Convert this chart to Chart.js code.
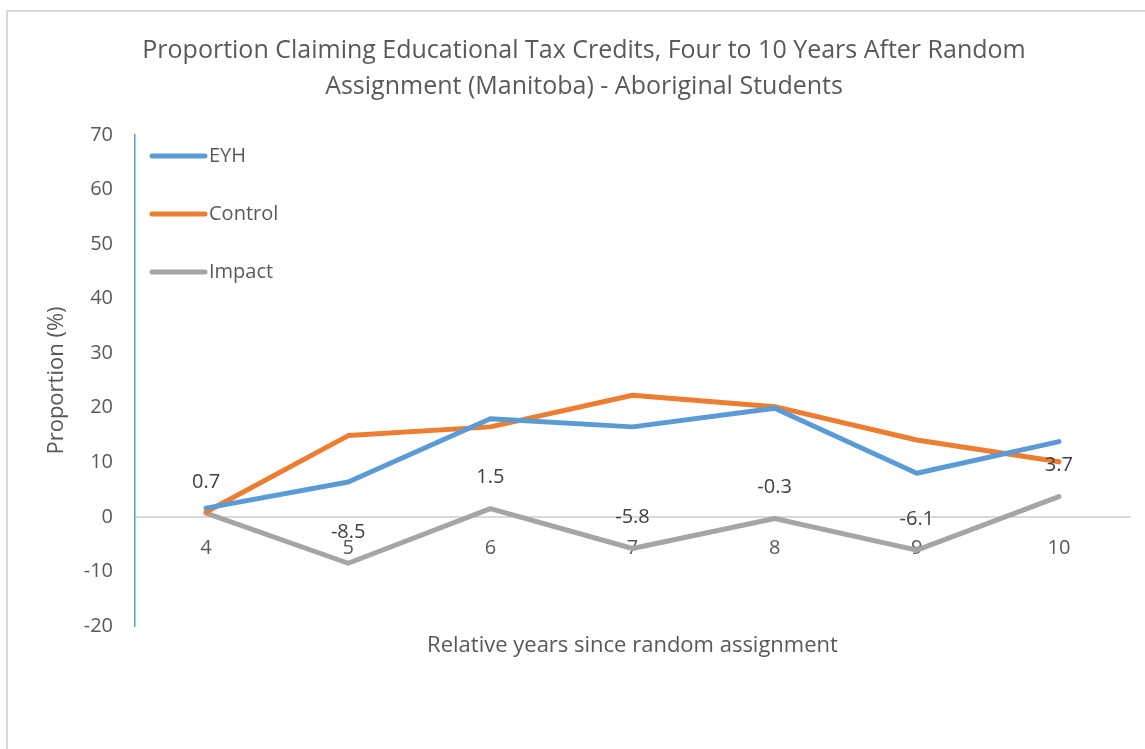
<!DOCTYPE html>
<html>
<head>
<meta charset="utf-8">
<title>Educational Tax Credits - Manitoba</title>
<script src="https://cdn.jsdelivr.net/npm/chart.js@4.4.1/dist/chart.umd.min.js"></script>
<style>
    body { margin: 0; background: #fff; overflow: hidden; }
    #frame {
        position: absolute; left: 6px; top: 10px;
        width: 1200px; height: 800px;
        border: 2px solid #d9d9d9;
    }
    #wrap { position: absolute; left: 0; top: 0; width: 1145px; height: 749px; }
</style>
</head>
<body>
<div id="frame"></div>
<div id="wrap"><canvas id="taxChart"></canvas></div>
<script>
// values
const years = ['4', '5', '6', '7', '8', '9', '10'];
const eyh = [1.6, 6.4, 18.0, 16.5, 19.9, 8.0, 13.8];
const control = [0.9, 14.9, 16.5, 22.3, 20.2, 14.1, 10.1];
const impact = [0.7, -8.5, 1.5, -5.8, -0.3, -6.1, 3.7];
const yTicks = [-20, -10, 0, 10, 20, 30, 40, 50, 60, 70];

const FONT = "'Open Sans', sans-serif";
const TEXT = '#595959';

// legend drawn inside the plot, top left
const insideLegend = {
    id: 'insideLegend',
    afterDraw(chart) {
        const ctx = chart.ctx;
        const a = chart.chartArea;
        ctx.save();
        ctx.font = '20px ' + FONT;
        ctx.textBaseline = 'middle';
        chart.data.datasets.forEach((ds, i) => {
            const y = a.top + 21 + i * 58;
            ctx.strokeStyle = ds.borderColor;
            ctx.lineWidth = 5;
            ctx.lineCap = 'round';
            ctx.beginPath();
            ctx.moveTo(a.left + 17, y);
            ctx.lineTo(a.left + 70, y);
            ctx.stroke();
            ctx.fillStyle = TEXT;
            ctx.fillText(ds.label, a.left + 74, y);
        });
        ctx.restore();
    }
};

// value labels for the Impact series + x axis title
const extraText = {
    id: 'extraText',
    afterDatasetsDraw(chart) {
        const ctx = chart.ctx;
        const a = chart.chartArea;
        ctx.save();
        ctx.font = '20px ' + FONT;
        ctx.fillStyle = '#404040';
        ctx.textAlign = 'center';
        ctx.textBaseline = 'middle';
        const meta = chart.getDatasetMeta(2);
        meta.data.forEach((pt, i) => {
            ctx.fillText(impact[i].toFixed(1), pt.x, pt.y - 31);
        });
        ctx.font = '22px ' + FONT;
        ctx.fillStyle = TEXT;
        ctx.fillText('Relative years since random assignment', (a.left + a.right) / 2, a.bottom + 20);
        ctx.restore();
    }
};

function lineSet(label, data, color) {
    return {
        label: label,
        data: data,
        borderColor: color,
        backgroundColor: color,
        borderWidth: 5,
        borderCapStyle: 'round',
        borderJoinStyle: 'round',
        pointRadius: 0,
        tension: 0,
        fill: false
    };
}

const ctx = document.getElementById('taxChart');
new Chart(ctx, {
    type: 'line',
    data: {
        labels: years,
        datasets: [
            lineSet('EYH', eyh, '#5B9BD5'),
            lineSet('Control', control, '#ED7D31'),
            lineSet('Impact', impact, '#A5A5A5')
        ]
    },
    options: {
        responsive: true,
        maintainAspectRatio: false,
        animation: false,
        layout: { padding: { left: 38, right: 15, top: 0, bottom: 123 } },
        plugins: {
            legend: { display: false },
            tooltip: { enabled: false },
            title: {
                display: true,
                text: ['Proportion Claiming Educational Tax Credits, Four to 10 Years After Random',
                       'Assignment (Manitoba) - Aboriginal Students'],
                color: TEXT,
                font: { family: FONT, size: 25, weight: 'normal', lineHeight: 36 / 25 },
                padding: { top: 33, bottom: 30 }
            }
        },
        scales: {
            x: {
                type: 'category',
                offset: true,
                position: { y: 0 },
                grid: { display: false, drawTicks: false },
                border: { display: true, color: '#d9d9d9', width: 2 },
                ticks: { color: TEXT, font: { family: FONT, size: 20 }, padding: 19 }
            },
            y: {
                min: -20,
                max: 70,
                afterBuildTicks: s => { s.ticks = yTicks.map(v => ({ value: v })); },
                afterFit: s => { s.width = 97; },
                grid: { display: false, drawTicks: false },
                border: { display: true, color: '#5B9BD5', width: 1.5 },
                ticks: { color: TEXT, font: { family: FONT, size: 20 }, padding: 22 },
                title: {
                    display: true,
                    text: 'Proportion (%)',
                    color: TEXT,
                    font: { family: FONT, size: 22 },
                    padding: { top: 6, bottom: 0 }
                }
            }
        }
    },
    plugins: [insideLegend, extraText]
});
</script>
</body>
</html>
